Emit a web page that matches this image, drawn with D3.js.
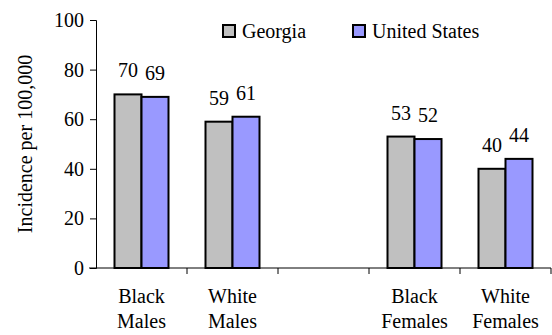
<!DOCTYPE html>
<html>
<head>
<meta charset="utf-8">
<script src="https://cdn.jsdelivr.net/npm/d3@7"></script>
<style>
  body { margin: 0; background: #fff; }
</style>
</head>
<body>
<div id="chart"></div>
<script>
// data
var categories = ['Black Males', 'White Males', '', 'Black Females', 'White Females'];
var seriesNames = ['Georgia', 'United States'];
var georgia = [70, 59, null, 53, 40];
var unitedStates = [69, 61, null, 52, 44];
var yTicks = [0, 20, 40, 60, 80, 100];

var colors = ['#c0c0c0', '#9999ff'];
var fontFam = 'Liberation Serif, Times New Roman, serif';
var width = 552, height = 335;
var margin = {top: 20, right: 1, bottom: 67, left: 96};

var svg = d3.select('#chart').append('svg')
  .attr('width', width)
  .attr('height', height)
  .attr('font-family', fontFam);

var x = d3.scaleBand()
  .domain(d3.range(categories.length))
  .range([margin.left, width - margin.right])
  .paddingInner(0).paddingOuter(0);

var y = d3.scaleLinear()
  .domain([0, 100])
  .range([height - margin.bottom, margin.top]);

var barW = 27;

// y axis
var yAxis = svg.append('g')
  .attr('transform', 'translate(' + margin.left + ',0)')
  .call(d3.axisLeft(y).tickValues(yTicks).tickSize(6).tickPadding(6).tickFormat(d3.format('d')));
yAxis.attr('font-family', fontFam).attr('font-size', 20);
yAxis.select('.domain').attr('stroke', '#000').attr('stroke-width', 1);
yAxis.selectAll('.tick line').attr('stroke', '#000');

// bars + value labels
var series = [georgia, unitedStates];
series.forEach(function(vals, s) {
  var g = svg.append('g');
  categories.forEach(function(c, i) {
    if (vals[i] == null) return;
    var bx = x(i) + x.bandwidth() / 2 - barW + s * barW;
    g.append('rect')
      .attr('x', bx)
      .attr('y', y(vals[i]))
      .attr('width', barW)
      .attr('height', y(0) - y(vals[i]))
      .attr('fill', colors[s])
      .attr('stroke', '#000')
      .attr('stroke-width', 2);
    g.append('text')
      .attr('x', bx + barW / 2)
      .attr('y', y(vals[i]) - 17)
      .attr('text-anchor', 'middle')
      .attr('font-size', 20)
      .text(vals[i]);
  });
});

// x axis (ticks between categories)
var xAxis = svg.append('g')
  .attr('transform', 'translate(0,' + y(0) + ')');
xAxis.append('line')
  .attr('x1', margin.left - 7).attr('x2', width - margin.right)
  .attr('stroke', '#000');
d3.range(categories.length).forEach(function(i) {
  var tx = x(i) + x.bandwidth();
  xAxis.append('line')
    .attr('x1', tx).attr('x2', tx)
    .attr('y1', 0).attr('y2', 6)
    .attr('stroke', '#000');
  var words = categories[i].split(' ');
  words.forEach(function(w, k) {
    xAxis.append('text')
      .attr('x', x(i) + x.bandwidth() / 2)
      .attr('y', 35 + k * 25)
      .attr('text-anchor', 'middle')
      .attr('font-size', 20)
      .text(w);
  });
});

// y title
svg.append('text')
  .attr('transform', 'translate(32,' + ((margin.top + y(0)) / 2) + ') rotate(-90)')
  .attr('text-anchor', 'middle')
  .attr('font-size', 20)
  .text('Incidence per 100,000');

// legend
var legendX = [223, 353];
seriesNames.forEach(function(n, s) {
  var lg = svg.append('g').attr('transform', 'translate(' + legendX[s] + ',25)');
  lg.append('rect')
    .attr('width', 12).attr('height', 12)
    .attr('fill', colors[s])
    .attr('stroke', '#000')
    .attr('stroke-width', 2);
  lg.append('text')
    .attr('x', 19).attr('y', 13)
    .attr('font-size', 20)
    .text(n);
});
</script>
</body>
</html>
